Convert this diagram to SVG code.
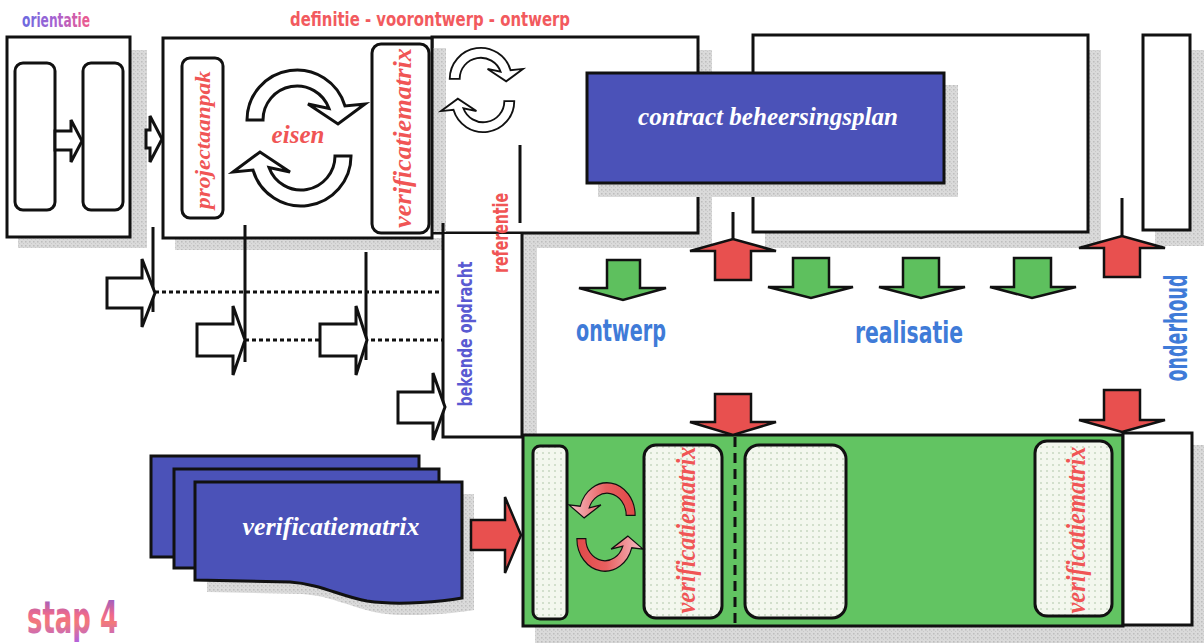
<svg xmlns="http://www.w3.org/2000/svg" width="1204" height="643" viewBox="0 0 1204 643">
<defs>
<style>
.box{fill:#fff;stroke:#111;stroke-width:3}
.in{fill:#fff;stroke:#111;stroke-width:3}
.ln{fill:none;stroke:#111;stroke-width:3}
.dot{fill:none;stroke:#111;stroke-width:3;stroke-dasharray:4 3}
.sh{fill:url(#stip)}
.wa{fill:#fff;stroke:#111;stroke-width:3;stroke-linejoin:miter}
.ra{fill:#e8504f;stroke:#111;stroke-width:2.5;stroke-linejoin:miter}
.ga{fill:#5ec05e;stroke:#111;stroke-width:2.5;stroke-linejoin:miter}
.blue{fill:#4b52b8;stroke:#111;stroke-width:3}
.ttl{font-family:"Liberation Sans Narrow","DejaVu Sans Condensed","Liberation Sans",sans-serif;font-weight:bold}
.ital{font-family:"Liberation Serif",serif;font-style:italic;font-weight:bold}
.redt{fill:#f05555}
.bluet{fill:#3f7bd8}
.wt{fill:#fff}
.vm{fill:url(#dots);stroke:#111;stroke-width:3}
</style>
<pattern id="stip" width="4" height="4" patternUnits="userSpaceOnUse"><rect width="4" height="4" fill="#dadada"/><rect x="1" y="1" width="1.5" height="1.5" fill="#bdbdbd"/><rect x="3" y="3" width="1" height="1" fill="#c8c8c8"/></pattern>
<pattern id="dots" width="6" height="6" patternUnits="userSpaceOnUse"><rect width="6" height="6" fill="#f3f7ee"/><circle cx="3" cy="3" r="0.8" fill="#a9c2a2"/></pattern>
<linearGradient id="gOri" x1="0" y1="0" x2="1" y2="0"><stop offset="0" stop-color="#6a6ae0"/><stop offset="0.5" stop-color="#a862d0"/><stop offset="1" stop-color="#f05a8a"/></linearGradient>
<linearGradient id="gStap" x1="0" y1="0" x2="0" y2="1"><stop offset="0" stop-color="#7a5ad8"/><stop offset="0.45" stop-color="#f06a8a"/><stop offset="0.6" stop-color="#f27a7a"/><stop offset="1" stop-color="#b060e0"/></linearGradient>
<linearGradient id="gCyc" x1="0" y1="0" x2="1" y2="0"><stop offset="0" stop-color="#e04848"/><stop offset="0.45" stop-color="#e86060"/><stop offset="1" stop-color="#f6c0c8"/></linearGradient>
<path id="cyc" d="M247 120 A50 50 0 0 1 345 106 L365 104 L338 124 L308 104 L329 108.5 A34 34 0 0 0 263 120 Z"/>
</defs>

<rect width="1204" height="643" fill="#fff"/>

<g id="shadows">
<rect class="sh" x="130" y="50" width="17" height="198"/>
<rect class="sh" x="18" y="237" width="129" height="11"/>
<rect class="sh" x="175" y="238" width="270" height="12"/>
<rect class="sh" x="698" y="50" width="14" height="198"/>
<rect class="sh" x="535" y="233" width="177" height="15"/>
<rect class="sh" x="522" y="233" width="15" height="212"/>
<rect class="sh" x="1088" y="50" width="13" height="198"/>
<rect class="sh" x="765" y="232" width="336" height="16"/>
<rect class="sh" x="1190" y="50" width="14" height="196"/>
<rect class="sh" x="1155" y="230" width="49" height="16"/>
<rect class="sh" x="535" y="626" width="669" height="17"/>
<rect class="sh" x="1192" y="445" width="12" height="198"/>
<path class="sh" d="M207 494 H474 V610 C457 613 412 618 379 613 C352 608 332 596 302 594 L207 592 Z"/>
</g>

<g id="stage-onderhoud-top"><rect class="box" x="1143" y="35" width="47" height="195"/></g>
<g id="stage-realisatie-top"><rect class="box" x="753" y="35" width="335" height="197"/></g>
<g id="stage-ontwerp-top">
<rect class="box" x="432" y="37" width="266" height="196"/>
<rect class="sh" x="433" y="48" width="13" height="184"/>
<use href="#cyc" fill="#fff" stroke="#111" stroke-width="3" vector-effect="non-scaling-stroke" transform="translate(482,90) scale(0.62) translate(-299,-138)"/>
<use href="#cyc" fill="#fff" stroke="#111" stroke-width="3" vector-effect="non-scaling-stroke" transform="translate(482,90) scale(0.62) translate(-299,-138) rotate(180 299 138)"/>
</g>

<g id="bekende-opdracht">
<rect x="444" y="234" width="77" height="202" fill="#fff"/>
<path class="ln" d="M443 223 V437 H522 V233"/>
<text class="ttl" transform="translate(472,334) rotate(-90)" text-anchor="middle" font-size="20" textLength="145" lengthAdjust="spacingAndGlyphs" fill="#5a5ad2">bekende opdracht</text>
</g>

<g id="referentie">
<path class="ln" d="M520 145 V223"/>
<text class="ttl redt" transform="translate(508,233) rotate(-90)" text-anchor="middle" font-size="22" textLength="80" lengthAdjust="spacingAndGlyphs">referentie</text>
</g>

<g id="orientatie">
<rect class="box" x="7" y="37" width="123" height="200"/>
<rect class="in" x="15" y="63" width="40" height="147" rx="8"/>
<rect class="in" x="83" y="63" width="40" height="147" rx="8"/>
<polygon class="wa" points="55,131 71,131 71,120 82,141 71,162 71,150 55,150"/>
</g>

<g id="definitie">
<rect class="box" x="163" y="38" width="269" height="200"/>
<rect class="in" x="182" y="58" width="41" height="160" rx="8"/>
<text class="ital redt" transform="translate(210,140) rotate(-90)" text-anchor="middle" font-size="22" textLength="138" lengthAdjust="spacingAndGlyphs">projectaanpak</text>
<rect class="in" x="372" y="44" width="57" height="189" rx="9"/>
<text class="ital redt" transform="translate(411,138) rotate(-90)" text-anchor="middle" font-size="26" textLength="180" lengthAdjust="spacingAndGlyphs">verificatiematrix</text>
<use href="#cyc" fill="#fff" stroke="#111" stroke-width="3"/>
<use href="#cyc" fill="#fff" stroke="#111" stroke-width="3" transform="rotate(180 299 138)"/>
<text class="ital redt" x="298" y="143" text-anchor="middle" font-size="25">eisen</text>
</g>

<g id="contract-beheersingsplan">
<rect class="sh" x="944" y="85" width="14" height="112"/>
<rect class="sh" x="598" y="183" width="360" height="14"/>
<rect class="blue" x="587" y="73" width="357" height="110"/>
<text class="ital wt" x="768" y="125" text-anchor="middle" font-size="26" textLength="260" lengthAdjust="spacingAndGlyphs">contract beheersingsplan</text>
</g>

<g id="verificatie-uitvoering">
<rect x="523" y="435" width="600" height="191" fill="#62c462" stroke="#111" stroke-width="3"/>
<rect class="vm" x="533" y="446" width="34" height="173" rx="7"/>
<rect class="vm" x="644" y="445" width="78" height="173" rx="12"/>
<text class="ital redt" transform="translate(695,530) rotate(-90)" text-anchor="middle" font-size="28" textLength="167" lengthAdjust="spacingAndGlyphs">verificatiematrix</text>
<rect class="vm" x="745" y="445" width="101" height="173" rx="14"/>
<rect class="vm" x="1035" y="441" width="77" height="175" rx="12"/>
<text class="ital redt" transform="translate(1085,530) rotate(-90)" text-anchor="middle" font-size="28" textLength="167" lengthAdjust="spacingAndGlyphs">verificatiematrix</text>
<path d="M735 437 V627" fill="none" stroke="#111" stroke-width="3" stroke-dasharray="10 6"/>
<use href="#cyc" fill="url(#gCyc)" stroke="#111" stroke-width="2" vector-effect="non-scaling-stroke" transform="translate(606,527) scale(-0.56,0.65) translate(-299,-138)"/>
<use href="#cyc" fill="url(#gCyc)" stroke="#111" stroke-width="2" vector-effect="non-scaling-stroke" transform="translate(606,527) scale(-0.56,0.65) translate(-299,-138) rotate(180 299 138)"/>
</g>

<g id="onderhoud-uitvoering"><rect class="box" x="1123" y="433" width="69" height="192"/></g>

<g id="verificatiematrix-docs">
<rect class="blue" x="151" y="456" width="268" height="101"/>
<rect class="blue" x="174" y="469" width="265" height="99"/>
<path class="blue" d="M195 482 H462 V598 C445 601 400 606 367 601 C340 596 320 584 290 582 L195 580 Z"/>
<text class="ital wt" x="331" y="535" text-anchor="middle" font-size="26" textLength="177" lengthAdjust="spacingAndGlyphs">verificatiematrix</text>
</g>

<g id="connectors">
<path class="ln" d="M153 227 V312 M245 225 V362 M366 252 V360"/>
<path class="dot" d="M155 292 H443 M245 340 H443"/>
<polygon class="wa" points="146,130 150,130 150,116 162,139 150,162 150,148 146,148"/>
<polygon class="wa" points="107,278 142,278 142,259 155,293 142,327 142,308 107,308"/>
<polygon class="wa" points="197,324 233,324 233,306 245,340 233,375 233,356 197,356"/>
<polygon class="wa" points="320,324 356,324 356,306 367,340 356,375 356,356 320,356"/>
<polygon class="wa" points="398,392 433,392 433,373 445,407 433,440 433,423 398,423"/>
<path class="ln" d="M733 212 V240 M1122 198 V237" stroke-width="2.5"/>
<polygon class="ra" points="715,280 715,251 690,251 733,239 776,251 751,251 751,280"/>
<polygon class="ra" points="1104,277 1104,248 1079,248 1122,236 1165,248 1140,248 1140,277"/>
<polygon class="ra" points="715,394 751,394 751,422 776,422 733,435 690,422 715,422"/>
<polygon class="ra" points="1104,390 1140,390 1140,420 1165,420 1122,432 1079,420 1104,420"/>
<polygon class="ga" points="607,260 640,260 640,288 666,288 623,300 579,288 607,288"/>
<polygon class="ga" points="793,258 829,258 829,287 853,287 811,298 768,287 793,287"/>
<polygon class="ga" points="903,258 939,258 939,287 965,287 921,298 879,287 903,287"/>
<polygon class="ga" points="1014,258 1051,258 1051,287 1076,287 1032,298 990,287 1014,287"/>
<polygon class="ra" points="471,520 505,520 505,497 521,535 505,573 505,550 471,550"/>
</g>

<g id="labels">
<text class="ttl" x="22" y="27" font-size="20" textLength="68" lengthAdjust="spacingAndGlyphs" fill="url(#gOri)">orientatie</text>
<text class="ttl" x="290" y="26" font-size="20" textLength="280" lengthAdjust="spacingAndGlyphs" fill="#f25a5e">definitie - voorontwerp - ontwerp</text>
<text class="ttl bluet" x="576" y="341" font-size="30" textLength="90" lengthAdjust="spacingAndGlyphs">ontwerp</text>
<text class="ttl bluet" x="855" y="343" font-size="30" textLength="108" lengthAdjust="spacingAndGlyphs">realisatie</text>
<text class="ttl bluet" transform="translate(1187,328) rotate(-90)" text-anchor="middle" font-size="32" textLength="107" lengthAdjust="spacingAndGlyphs">onderhoud</text>
<text class="ttl" x="27" y="633" font-size="44" textLength="91" lengthAdjust="spacingAndGlyphs" fill="url(#gStap)">stap 4</text>
</g>
</svg>
